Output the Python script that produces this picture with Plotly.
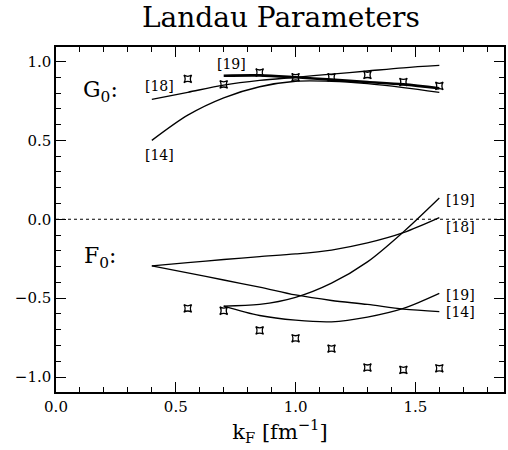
import plotly.graph_objects as go

# Data points (crosses)
kf_pts = [0.55, 0.70, 0.85, 1.00, 1.15, 1.30, 1.45, 1.60]
g0_pts = [0.89, 0.855, 0.93, 0.90, 0.90, 0.915, 0.87, 0.845]
f0_pts = [-0.565, -0.58, -0.705, -0.755, -0.82, -0.94, -0.955, -0.945]

# Curves
kf_a = [0.40, 0.55, 0.70, 0.85, 1.00, 1.15, 1.30, 1.45, 1.60]
g0_ref18 = [0.76, 0.805, 0.85, 0.88, 0.90, 0.92, 0.94, 0.96, 0.975]
g0_ref14 = [0.50, 0.66, 0.77, 0.84, 0.875, 0.875, 0.86, 0.835, 0.805]
f0_ref18 = [-0.295, -0.275, -0.255, -0.237, -0.22, -0.195, -0.15, -0.085, 0.01]
f0_ref14 = [-0.295, -0.34, -0.385, -0.43, -0.48, -0.515, -0.54, -0.57, -0.585]

kf_b = [0.70, 0.85, 1.00, 1.15, 1.30, 1.45, 1.60]
g0_ref19 = [0.91, 0.912, 0.90, 0.885, 0.87, 0.855, 0.83]
f0_ref19a = [-0.55, -0.54, -0.495, -0.405, -0.27, -0.08, 0.135]
f0_ref19b = [-0.55, -0.61, -0.64, -0.65, -0.62, -0.565, -0.47]

SERIF = "DejaVu Serif"

fig = go.Figure()

def curve(x, y, w=1.3):
    fig.add_trace(go.Scatter(x=x, y=y, mode="lines",
                             line=dict(color="black", width=w, shape="spline", smoothing=0.9),
                             showlegend=False, hoverinfo="skip"))

curve(kf_a, g0_ref18)
curve(kf_a, g0_ref14)
curve(kf_b, g0_ref19, w=2.6)
curve(kf_a, f0_ref18)
curve(kf_a, f0_ref14)
curve(kf_b, f0_ref19a)
curve(kf_b, f0_ref19b)

# zero line (dotted)
fig.add_trace(go.Scatter(x=[0, 1.87], y=[0, 0], mode="lines",
                         line=dict(color="black", width=1, dash="dot"),
                         showlegend=False, hoverinfo="skip"))

for ys in (g0_pts, f0_pts):
    fig.add_trace(go.Scatter(x=kf_pts, y=ys, mode="markers",
                             marker=dict(symbol="star-square-open", size=7, color="black",
                                         line=dict(color="black", width=1.3)),
                             showlegend=False, hoverinfo="skip"))

labels = [
    (0.733, 0.987, "[19]"), (0.43, 0.845, "[18]"), (0.43, 0.41, "[14]"),
    (1.687, 0.122, "[19]"), (1.687, -0.047, "[18]"),
    (1.687, -0.479, "[19]"), (1.687, -0.591, "[14]"),
]
for x, y, t in labels:
    fig.add_annotation(x=x, y=y, text=t, showarrow=False,
                       font=dict(family=SERIF, size=14, color="black"))

fig.add_annotation(x=0.185, y=0.81, text="G<sub>0</sub>:", showarrow=False,
                   font=dict(family=SERIF, size=22, color="black"))
fig.add_annotation(x=0.185, y=-0.24, text="F<sub>0</sub>:", showarrow=False,
                   font=dict(family=SERIF, size=22, color="black"))

axis_common = dict(
    showgrid=False, zeroline=False, showline=True, linecolor="black", linewidth=1.5,
    mirror="allticks", ticks="inside", ticklen=10, tickwidth=1.2, tickcolor="black",
    tickfont=dict(family=SERIF, size=15, color="black"),
    minor=dict(ticks="inside", ticklen=5, tickwidth=1, tickcolor="black", dtick=0.1),
)

fig.update_xaxes(range=[0, 1.87], dtick=0.5, tick0=0, tickformat=".1f",
                 title=dict(text="k<sub>F</sub> [fm<sup>−1</sup>]",
                            font=dict(family=SERIF, size=21, color="black"), standoff=4),
                 **axis_common)
fig.update_yaxes(range=[-1.095, 1.092], dtick=0.5, tick0=0, tickformat=".1f",
                 **axis_common)

fig.update_layout(
    width=508, height=450,
    margin=dict(l=56, r=2, t=47, b=58),
    paper_bgcolor="white", plot_bgcolor="white",
    title=dict(text="Landau Parameters", x=0.553, xanchor="center", y=0.962, yanchor="middle",
               font=dict(family=SERIF, size=28, color="black")),
)

fig.write_html("out.html")
